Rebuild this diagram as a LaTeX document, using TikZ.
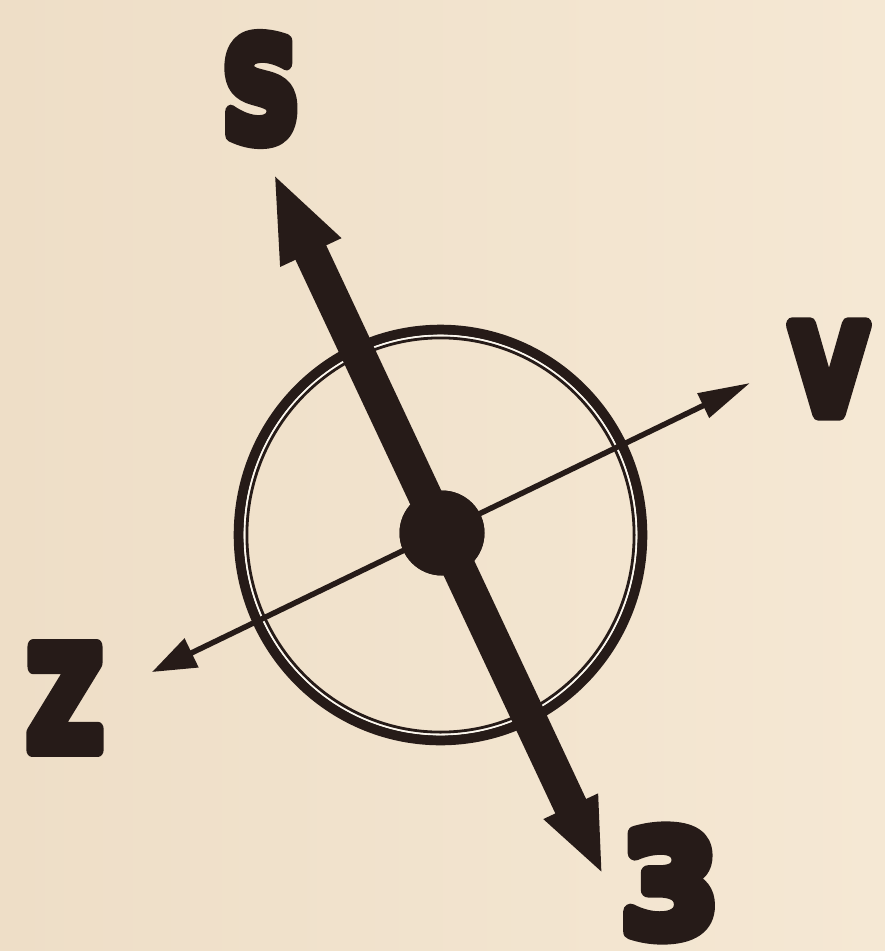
\documentclass[tikz,border=0pt]{standalone}
\usepackage{fontspec}
\usetikzlibrary{arrows.meta}
\newfontfamily\compassfont{DejaVu Sans}
\newcommand{\fatglyph}[1]{\hbox{\special{pdf:literal direct 2 Tr 15 w 1 j 1 J}#1\special{pdf:literal direct 0 Tr}}}
\definecolor{paper}{RGB}{245,232,212}
\definecolor{paperdark}{RGB}{238,222,199}
\definecolor{ink}{RGB}{38,27,24}
\definecolor{gap}{RGB}{252,248,240}
\tikzset{
  letter/.style={text=ink, inner sep=0pt},
  needle/.style={draw=ink, line width=34pt,
     arrows={Triangle[length=89pt,width=60pt,fill=ink]-Triangle[length=76pt,width=54pt,fill=ink]}},
  crossline/.style={draw=ink, line width=5.5pt,
     arrows={Triangle[length=44pt,width=31pt,fill=ink]-Triangle[length=52pt,width=26pt,fill=ink]}},
  hubdisc/.style={circle, fill=ink, minimum size=85pt, inner sep=0pt}
}
\begin{document}
\begin{tikzpicture}[x=1pt,y=-1pt]
  \shade[left color=paperdark, right color=paper] (0,0) rectangle (885,951);
  \useasboundingbox (0,0) rectangle (885,951);
  % ring
  \draw[ink, line width=10pt] (440.5,535) ellipse [x radius=201.8, y radius=205.3];
  \draw[gap, line width=2pt] (440.5,535) ellipse [x radius=195.9, y radius=199.4];
  \draw[ink, line width=2.8pt] (440.5,535) ellipse [x radius=193.6, y radius=197.1];
  % tips
  \coordinate (stip) at (273,172);
  \coordinate (jtip) at (603,875);
  \coordinate (ztip) at (152,672);
  \coordinate (vtip) at (750,383);
  \node[hubdisc] (hub) at (442,533) {};
  \draw[crossline] (ztip) -- (vtip);
  \draw[needle] (stip) -- (jtip);
  \node[hubdisc] at (hub) {};
  % letters
  \node[letter, font=\compassfont\bfseries\fontsize{139}{139}\selectfont] (S) at (261,89) {\scalebox{0.77}[1]{\fatglyph{S}}};
  \node[letter, font=\compassfont\bfseries\fontsize{121}{121}\selectfont] (V) at (829,369) {\scalebox{0.8}[1]{\fatglyph{V}}};
  \node[letter, font=\compassfont\bfseries\fontsize{141}{141}\selectfont] (Z) at (65,698) {\scalebox{0.74}[1]{\fatglyph{Z}}};
  \node[letter, font=\compassfont\bfseries\fontsize{143}{143}\selectfont] (J) at (670,883) {\scalebox{0.98}[1]{\fatglyph{3}}};
\end{tikzpicture}
\end{document}
